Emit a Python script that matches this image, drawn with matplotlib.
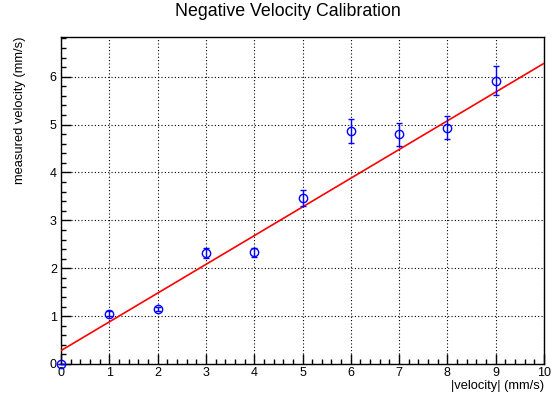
import numpy as np
import matplotlib
matplotlib.use("Agg")
import matplotlib.pyplot as plt
from matplotlib.ticker import MultipleLocator

plt.rcParams['font.family'] = ['Liberation Sans', 'DejaVu Sans']

# measured points
speed = [0, 1, 2, 3, 4, 5, 6, 7, 8, 9]
measured = [0.0, 1.05, 1.15, 2.32, 2.33, 3.47, 4.86, 4.80, 4.93, 5.92]
err = [0.0, 0.05, 0.05, 0.10, 0.10, 0.17, 0.25, 0.24, 0.24, 0.30]

# linear fit result
fit_intercept = 0.28
fit_slope = 0.60

fig = plt.figure(figsize=(5.58, 3.96), dpi=100)
ax = fig.add_axes([61/558, 1-364/396, (544-61)/558, (364-37)/396])

xs = np.linspace(0, 10, 50)
ax.plot(xs, fit_intercept + fit_slope * xs, color='red', lw=1.2, zorder=3)
ax.errorbar(speed, measured, yerr=err, fmt='o', mfc='none', mec='blue',
            ecolor='blue', ms=6, mew=1.0, elinewidth=1.0, capsize=2, capthick=1.0,
            zorder=4, clip_on=False)

ax.set_xlim(0, 10)
ax.set_ylim(0, 6.83)
ax.xaxis.set_major_locator(MultipleLocator(1))
ax.xaxis.set_minor_locator(MultipleLocator(0.2))
ax.yaxis.set_major_locator(MultipleLocator(1))
ax.yaxis.set_minor_locator(MultipleLocator(0.2))
ax.tick_params(which='both', direction='in', top=False, right=False,
               labelsize=9)
ax.tick_params(axis='x', pad=2)
ax.tick_params(axis='y', pad=3)
ax.tick_params(which='major', length=7.2, width=1)
ax.tick_params(which='minor', length=3.6, width=1)
ax.grid(True, which='major', color='black', linestyle=(0, (1, 2)), lw=0.8)
for s in ax.spines.values():
    s.set_linewidth(1.0)

fig.text(288/558, 1-11/396, "Negative Velocity Calibration", ha='center', va='center',
         fontsize=12.8)
ax.set_xlabel("|velocity| (mm/s)", fontsize=9.3, loc='right', labelpad=1)
ax.set_ylabel("measured velocity (mm/s)", fontsize=9.3, loc='top', labelpad=17)

fig.savefig("out.png", dpi=100)
